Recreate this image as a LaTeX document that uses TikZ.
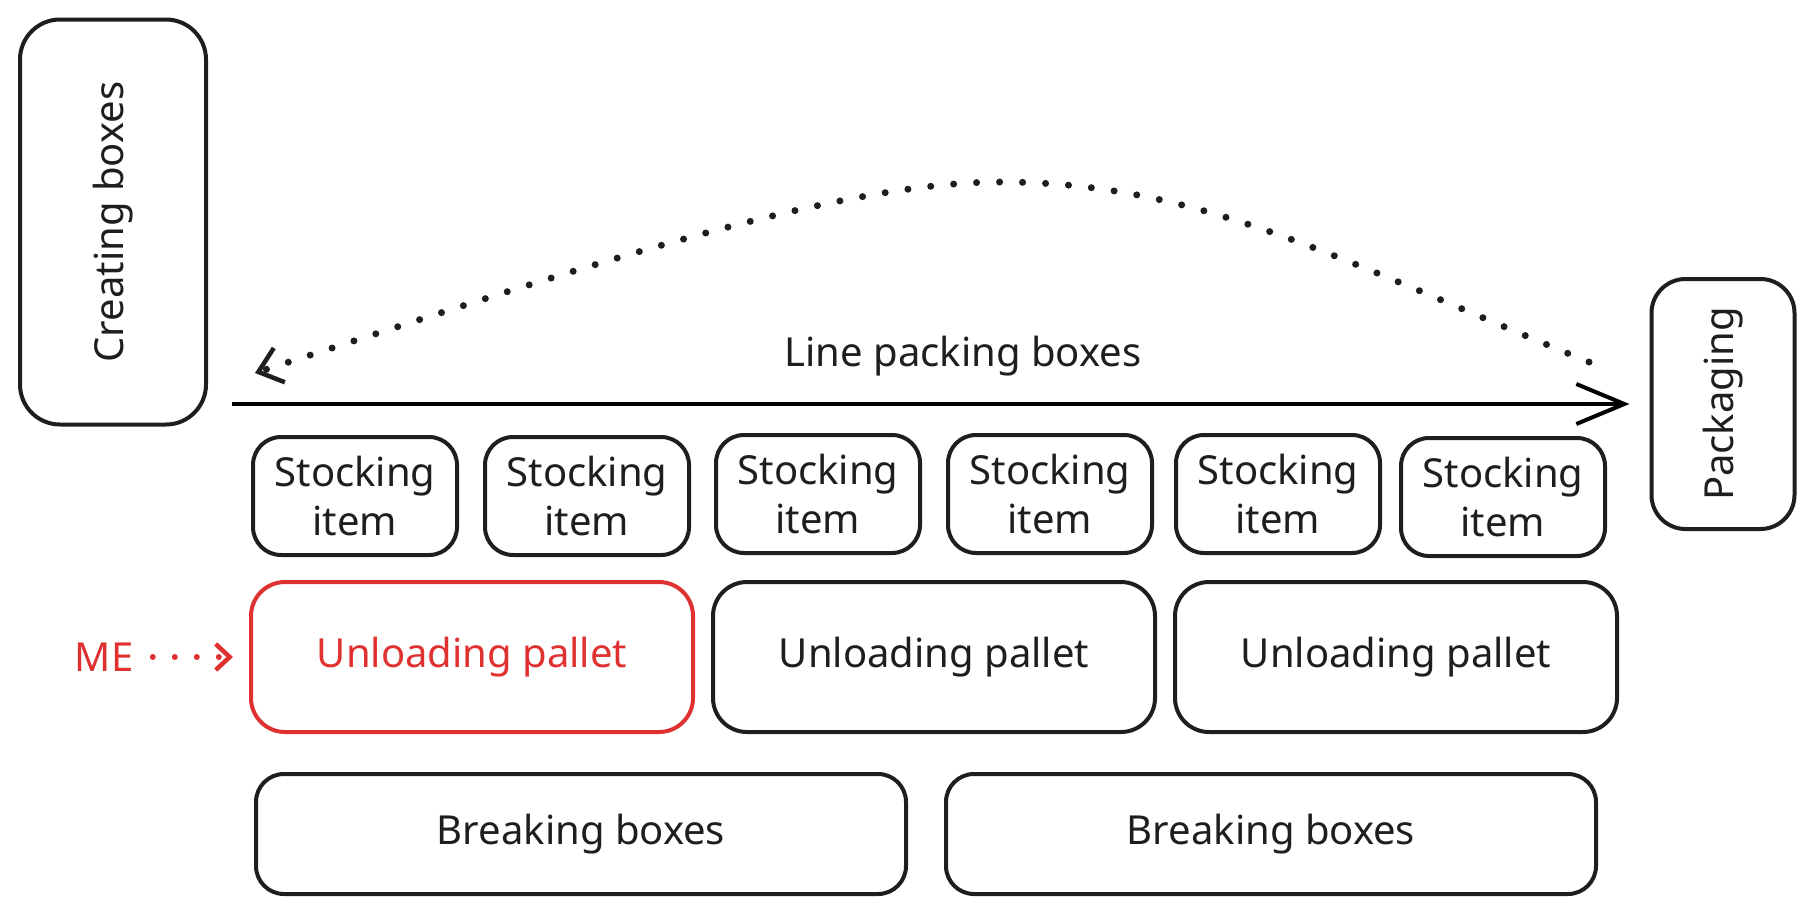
\documentclass[tikz,border=0pt]{standalone}
\usepackage{fontspec}
\setmainfont{Noto Sans}
\usetikzlibrary{positioning, arrows.meta}
\definecolor{inkblack}{HTML}{1E1E1E}
\definecolor{mered}{HTML}{E03131}
\tikzstyle{arrow} = [line width=4pt,-{Straight Barb[length=48pt,width=40pt,line width=4pt]}]

\begin{document}
\begin{tikzpicture}[x=1pt,y=-1pt]
                \tikzstyle{every node}=[font=\fontsize{40}{49}\selectfont, text=inkblack]
                \tikzstyle{box} = [draw=inkblack, line width=4pt, rounded corners=28pt, inner sep=0pt, align=center]
                \tikzstyle{item} = [box, minimum width=204pt, minimum height=118pt]
                \tikzstyle{pallet} = [box, minimum width=442pt, minimum height=150pt, rounded corners=34pt]
                \tikzstyle{breaking} = [box, minimum width=650pt, minimum height=120pt]
                \tikzstyle{dots} = [line width=7pt, line cap=round, dash pattern=on 0pt off 23pt]

                \useasboundingbox (0,0) rectangle (1816,916);

                % side stages
                \node[box, minimum width=186pt, minimum height=405pt, rounded corners=40pt](cb) at (113,222) {};
                \node[rotate=90] at (cb) {Creating boxes};
                \node[box, minimum width=143pt, minimum height=250pt, rounded corners=34pt](pk) at (1723,404) {};
                \node[rotate=90] at (pk) {Packaging};

                % packing line
                \coordinate (ls) at (232,404);
                \draw[arrow, shorten >=20pt] (ls) -- (pk);
                \node(lp) at (963,356) {Line packing boxes};
                \draw[dots, draw=inkblack, -{Straight Barb[length=22pt,width=36pt,line width=4.5pt]}]
                    (1589,362) .. controls (1339,260) and (1200,182) .. (1000,182)
                    .. controls (830,182) and (555,276) .. (255,373);

                % stocking items
                \node[item](s1) at (355,496) {Stocking\\item};
                \node[item](s2) at (587,496) {Stocking\\item};
                \node[item](s3) at (818,494) {Stocking\\item};
                \node[item](s4) at (1050,494) {Stocking\\item};
                \node[item](s5) at (1278,494) {Stocking\\item};
                \node[item](s6) at (1503,497) {Stocking\\item};

                % unloading pallets
                \node[pallet, draw=mered, text=mered](u1) at (472,657) {Unloading pallet};
                \node[pallet](u2) at (934,657) {Unloading pallet};
                \node[pallet](u3) at (1396,657) {Unloading pallet};

                % breaking boxes
                \node[breaking](b1) at (581,834) {Breaking boxes};
                \node[breaking](b2) at (1271,834) {Breaking boxes};

                % me
                \node[text=mered](me) at (104,657) {ME};
                \draw[dots, draw=mered, line width=6pt, dash pattern=on 0pt off 22pt, shorten <=16pt, shorten >=16pt,
                    -{Straight Barb[length=14pt,width=26pt,line width=4.5pt]}] (me) -- (u1);

        \end{tikzpicture}
\end{document}
